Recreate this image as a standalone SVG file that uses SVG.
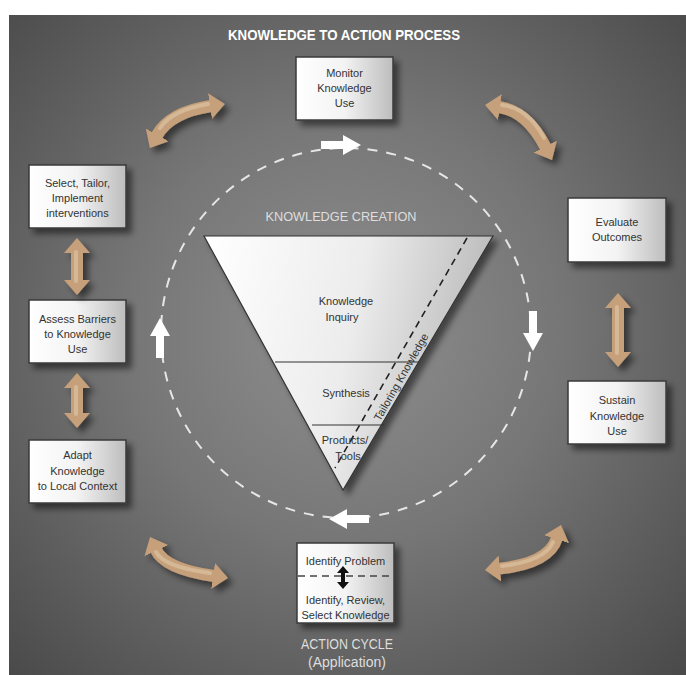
<svg xmlns="http://www.w3.org/2000/svg" width="686" height="675" viewBox="0 0 686 675">
<defs>
<radialGradient id="bg" gradientUnits="userSpaceOnUse" cx="345" cy="330" r="480">
<stop offset="0" stop-color="#8f8f8f"/>
<stop offset="0.45" stop-color="#767676"/>
<stop offset="1" stop-color="#4a4a4a"/>
</radialGradient>
<linearGradient id="boxg" x1="0" y1="0" x2="1" y2="0">
<stop offset="0" stop-color="#ffffff"/>
<stop offset="0.5" stop-color="#f3f3f3"/>
<stop offset="1" stop-color="#bdbdbd"/>
</linearGradient>
<linearGradient id="trig" gradientUnits="userSpaceOnUse" x1="204" y1="240" x2="493" y2="300">
<stop offset="0" stop-color="#ffffff"/>
<stop offset="0.55" stop-color="#ececec"/>
<stop offset="1" stop-color="#b9b9b9"/>
</linearGradient>
<filter id="shadow" filterUnits="userSpaceOnUse" x="0" y="0" width="686" height="675">
<feDropShadow dx="5" dy="5" stdDeviation="3" flood-color="#000" flood-opacity="0.5"/>
</filter>
<marker id="head" markerUnits="userSpaceOnUse" markerWidth="15" markerHeight="26" viewBox="0 0 15 26" refX="1" refY="13" orient="auto-start-reverse">
<path d="M0,0 L15,13 L0,26 Z" fill="#c6a07a"/>
</marker>
<path id="warrow" d="M-20,-4 L2,-4 L2,-10 L20,0 L2,10 L2,4 L-20,4 Z"/>
<style>
.box{fill:url(#boxg);stroke:#3a3a3a;stroke-width:1.5;filter:url(#shadow)}
.bt{font-family:"Liberation Sans",Arial,sans-serif;font-size:11px;fill:#333;text-anchor:middle}
.tan{fill:none;stroke:#c6a07a;stroke-width:12;marker-start:url(#head);marker-end:url(#head)}
.hl{fill:none;stroke:#dcc2a2;stroke-width:4;stroke-linecap:round;opacity:0.7}
.lt{font-family:"Liberation Sans",Arial,sans-serif;fill:#dedede;text-anchor:middle}
.wa{fill:#ffffff}
</style>
</defs>
<rect x="0" y="0" width="686" height="675" fill="#ffffff"/>
<rect x="9" y="15" width="677" height="660" fill="url(#bg)"/>
<text class="lt" x="344" y="40" font-size="15" font-weight="bold" textLength="232" lengthAdjust="spacingAndGlyphs" style="fill:#fff">KNOWLEDGE TO ACTION PROCESS</text>

<g id="cycle">
<circle cx="346" cy="333" r="185" fill="none" stroke="#e6e6e6" stroke-width="2" stroke-dasharray="10 9"/>
<use href="#warrow" class="wa" transform="translate(341,145)"/>
<use href="#warrow" class="wa" transform="translate(533,331) rotate(90)"/>
<use href="#warrow" class="wa" transform="translate(349,519) rotate(180)"/>
<use href="#warrow" class="wa" transform="translate(160,338) rotate(-90)"/>
</g>

<g id="knowledge-creation">
<text class="lt" x="341" y="221" font-size="13" textLength="151" lengthAdjust="spacingAndGlyphs">KNOWLEDGE CREATION</text>
<polygon points="204,236 493,236 343,490" fill="url(#trig)" stroke="#333" stroke-width="1.2" filter="url(#shadow)"/>
<line x1="275" y1="362" x2="419" y2="362" stroke="#333" stroke-width="1.2"/>
<line x1="312" y1="425" x2="384" y2="425" stroke="#333" stroke-width="1.2"/>
<line x1="467" y1="238" x2="335" y2="468" stroke="#222" stroke-width="1.6" stroke-dasharray="7 5"/>
<text class="bt" x="346" y="305">Knowledge</text>
<text class="bt" x="342" y="321">Inquiry</text>
<text class="bt" x="346" y="397">Synthesis</text>
<text class="bt" x="345" y="444">Products/</text>
<text class="bt" x="348" y="460">Tools</text>
<text class="bt" transform="translate(401,377) rotate(-60.3)" x="0" y="4">Tailoring Knowledge</text>
</g>

<g id="node-monitor">
<rect class="box" x="296" y="57" width="97" height="63"/>
<text class="bt" x="344.5" y="77">Monitor</text>
<text class="bt" x="344.5" y="92">Knowledge</text>
<text class="bt" x="344.5" y="107">Use</text>
</g>
<g id="node-select">
<rect class="box" x="29" y="165" width="97" height="63"/>
<text class="bt" x="77.5" y="187">Select, Tailor,</text>
<text class="bt" x="77.5" y="202">Implement</text>
<text class="bt" x="77.5" y="217">interventions</text>
</g>
<g id="node-assess">
<rect class="box" x="29" y="300" width="97" height="63"/>
<text class="bt" x="77.5" y="323">Assess Barriers</text>
<text class="bt" x="77.5" y="338">to Knowledge</text>
<text class="bt" x="77.5" y="353">Use</text>
</g>
<g id="node-adapt">
<rect class="box" x="29" y="440" width="97" height="63"/>
<text class="bt" x="77.5" y="459">Adapt</text>
<text class="bt" x="77.5" y="475">Knowledge</text>
<text class="bt" x="77.5" y="490">to Local Context</text>
</g>
<g id="node-evaluate">
<rect class="box" x="568" y="198" width="98" height="64"/>
<text class="bt" x="617" y="226">Evaluate</text>
<text class="bt" x="617" y="241">Outcomes</text>
</g>
<g id="node-sustain">
<rect class="box" x="568" y="381" width="98" height="63"/>
<text class="bt" x="617" y="404">Sustain</text>
<text class="bt" x="617" y="420">Knowledge</text>
<text class="bt" x="617" y="435">Use</text>
</g>
<g id="node-identify">
<rect class="box" x="297" y="543" width="97" height="80"/>
<text class="bt" x="345.5" y="565">Identify Problem</text>
<line x1="298" y1="576" x2="393" y2="576" stroke="#444" stroke-width="1.5" stroke-dasharray="7 5"/>
<polygon points="343,566 349,573 345,573 345,582 349,582 343,589 337,582 341,582 341,573 337,573" fill="#111"/>
<text class="bt" x="345.5" y="604">Identify, Review,</text>
<text class="bt" x="345.5" y="619">Select Knowledge</text>
<text class="lt" x="347" y="649" font-size="14" textLength="92" lengthAdjust="spacingAndGlyphs">ACTION CYCLE</text>
<text class="lt" x="347" y="667" font-size="14">(Application)</text>
</g>

<g id="connectors">
<g filter="url(#shadow)">
<path class="tan" d="M156.7,135.7 Q170,112 211,106"/>
<path class="hl" d="M160,128 Q172,110 208,104"/>
</g>
<g filter="url(#shadow)">
<path class="tan" d="M498.9,107 Q527.2,111 545.7,147.5"/>
<path class="hl" d="M502,105 Q528,108 544,138"/>
</g>
<g filter="url(#shadow)">
<path class="tan" d="M155.9,549.7 Q164.8,569 214.1,576"/>
<path class="hl" d="M156,552 Q164,567 210,573"/>
</g>
<g filter="url(#shadow)">
<path class="tan" d="M498.9,568.6 Q548.8,563.6 556.8,538.3"/>
<path class="hl" d="M502,566 Q545,561 553,542"/>
</g>
<g filter="url(#shadow)">
<path class="tan" d="M77,252 L77,281"/>
<path class="hl" d="M76,252 L76,281"/>
</g>
<g filter="url(#shadow)">
<path class="tan" d="M77,387 L77,414"/>
<path class="hl" d="M76,387 L76,414"/>
</g>
<g filter="url(#shadow)">
<path class="tan" d="M618,307 L618,353"/>
<path class="hl" d="M617,307 L617,353"/>
</g>
</g>
</svg>
